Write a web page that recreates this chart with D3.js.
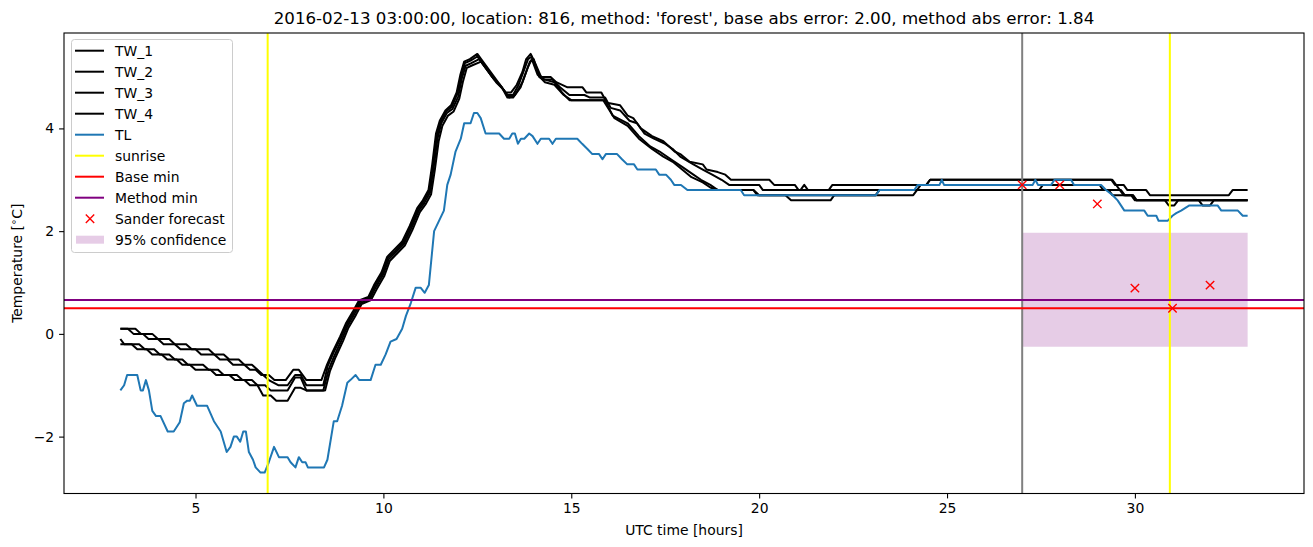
<!DOCTYPE html>
<html><head><meta charset="utf-8">
<script src="https://cdn.jsdelivr.net/npm/d3@7"></script>
<style>body{margin:0;background:#fff}svg text{font-family:"DejaVu Sans",sans-serif;fill:#000}</style>
</head><body><svg id="c" width="1313" height="547"></svg>
<script>
const titleText = "2016-02-13 03:00:00, location: 816, method: 'forest', base abs error: 2.00, method abs error: 1.84";
const xTicks = [5, 10, 15, 20, 25, 30];
const yTicks = [-2, 0, 2, 4];
const tw1 = [[3.0,0.1],[3.2,0.1],[3.35,0.0],[3.6,0.0],[3.75,-0.1],[4.0,-0.1],[4.15,-0.2],[4.45,-0.2],[4.6,-0.3],[5.0,-0.3],[5.15,-0.4],[5.5,-0.4],[5.65,-0.5],[5.85,-0.5],[6.0,-0.6],[6.3,-0.6],[6.45,-0.7],[6.6,-0.7],[6.75,-0.8],[6.95,-0.8],[7.1,-0.9],[7.4,-0.9],[7.6,-0.7],[7.75,-0.7],[7.95,-0.9],[8.35,-0.9],[8.5,-0.6],[8.65,-0.35],[8.85,-0.05],[9.0,0.2],[9.2,0.45],[9.35,0.65],[9.6,0.72],[9.75,0.95],[9.95,1.2],[10.1,1.5],[10.3,1.65],[10.5,1.8],[10.7,2.1],[10.9,2.45],[11.05,2.6],[11.2,2.8],[11.3,3.3],[11.4,3.9],[11.5,4.15],[11.65,4.35],[11.8,4.45],[11.95,4.7],[12.05,5.05],[12.15,5.3],[12.3,5.35],[12.5,5.45],[12.65,5.3],[12.85,5.1],[13.05,4.9],[13.25,4.7],[13.4,4.7],[13.55,4.85],[13.7,5.1],[13.8,5.35],[13.92,5.45],[14.05,5.25],[14.2,5.0],[14.45,5.0],[14.6,4.9],[14.9,4.8],[15.3,4.8],[15.4,4.7],[15.8,4.7],[15.95,4.5],[16.3,4.45],[16.5,4.25],[16.65,4.2],[16.85,4.0],[17.15,3.85],[17.45,3.75],[17.75,3.55],[17.9,3.5],[18.15,3.35],[18.5,3.3],[18.6,3.2],[18.9,3.15],[19.1,3.1],[19.25,3.0],[20.27,3.0],[20.4,2.9],[20.95,2.9],[21.05,2.8],[21.85,2.8],[21.95,2.9],[24.45,2.9],[24.55,3.0],[29.37,3.0],[29.47,2.9],[29.7,2.9],[29.8,2.8],[30.3,2.8],[30.4,2.7],[32.5,2.7],[32.6,2.8],[33.0,2.8]];
const tw2 = [[3.0,0.1],[3.4,0.1],[3.55,0.0],[3.85,0.0],[4.0,-0.1],[4.3,-0.1],[4.45,-0.2],[4.75,-0.2],[4.9,-0.3],[5.35,-0.3],[5.5,-0.4],[5.75,-0.4],[5.9,-0.5],[6.15,-0.5],[6.3,-0.6],[6.5,-0.6],[6.65,-0.7],[6.8,-0.8],[6.95,-0.9],[7.2,-1.0],[7.45,-1.0],[7.65,-0.8],[7.8,-0.8],[7.95,-1.0],[8.4,-1.0],[8.52,-0.62],[8.67,-0.37],[8.87,-0.07],[9.02,0.18],[9.22,0.43],[9.37,0.63],[9.62,0.7],[9.77,0.93],[9.97,1.18],[10.12,1.48],[10.32,1.62],[10.52,1.78],[10.72,2.08],[10.92,2.43],[11.07,2.58],[11.22,2.78],[11.32,3.28],[11.42,3.85],[11.52,4.12],[11.67,4.33],[11.82,4.42],[11.97,4.68],[12.07,5.02],[12.17,5.27],[12.32,5.32],[12.5,5.4],[12.7,5.2],[12.9,5.0],[13.1,4.85],[13.3,4.65],[13.45,4.65],[13.6,4.85],[13.75,5.15],[13.85,5.35],[13.95,5.4],[14.1,5.1],[14.25,4.95],[14.5,4.95],[14.7,4.8],[14.95,4.65],[15.35,4.65],[15.5,4.6],[15.9,4.6],[16.05,4.4],[16.3,4.35],[16.55,4.15],[16.75,4.1],[16.95,3.9],[17.2,3.8],[17.5,3.7],[17.7,3.6],[17.9,3.45],[18.25,3.3],[18.5,3.2],[18.75,3.1],[19.0,3.0],[19.2,2.9],[20.0,2.9],[20.1,2.8],[21.1,2.8],[21.2,2.9],[21.3,2.8],[27.45,2.8],[27.55,2.9],[29.06,2.9],[29.16,2.8],[29.63,2.8],[29.73,2.7],[29.94,2.7],[30.04,2.6],[30.8,2.6],[30.9,2.5],[31.05,2.5],[31.15,2.6],[33.0,2.6]];
const tw3 = [[3.0,-0.1],[3.1,-0.2],[3.5,-0.2],[3.65,-0.3],[3.9,-0.3],[4.05,-0.4],[4.3,-0.4],[4.45,-0.5],[4.65,-0.5],[4.8,-0.6],[5.2,-0.6],[5.35,-0.7],[5.6,-0.7],[5.75,-0.8],[6.1,-0.8],[6.25,-0.9],[6.5,-0.9],[6.65,-1.0],[6.85,-1.0],[7.0,-1.1],[7.45,-1.1],[7.65,-0.85],[7.8,-0.85],[7.95,-1.1],[8.4,-1.1],[8.55,-0.68],[8.7,-0.42],[8.9,-0.1],[9.04,0.15],[9.24,0.4],[9.39,0.6],[9.64,0.68],[9.79,0.9],[9.99,1.15],[10.14,1.45],[10.34,1.6],[10.54,1.75],[10.74,2.05],[10.94,2.4],[11.09,2.55],[11.24,2.75],[11.34,3.25],[11.44,3.8],[11.54,4.1],[11.69,4.3],[11.84,4.38],[11.99,4.62],[12.09,4.98],[12.19,5.22],[12.34,5.27],[12.55,5.35],[12.75,5.15],[12.95,4.95],[13.15,4.8],[13.3,4.6],[13.45,4.6],[13.65,4.8],[13.8,5.1],[13.9,5.3],[14.0,5.35],[14.15,5.0],[14.3,4.95],[14.55,4.9],[14.75,4.7],[14.95,4.55],[15.9,4.55],[16.1,4.25],[16.5,4.1],[16.8,3.85],[17.1,3.65],[17.35,3.55],[17.65,3.4],[17.95,3.25],[18.25,3.1],[18.45,3.0],[18.7,2.9],[18.9,2.8],[19.85,2.8],[19.95,2.7],[20.7,2.7],[20.85,2.6],[21.9,2.6],[22.0,2.7],[24.1,2.7],[24.2,2.8],[29.3,2.8],[29.4,2.7],[29.9,2.7],[30.0,2.6],[31.7,2.6],[31.8,2.5],[32.0,2.5],[32.1,2.6],[33.0,2.6]];
const tw4 = [[3.0,-0.2],[3.3,-0.2],[3.45,-0.3],[3.7,-0.3],[3.85,-0.4],[4.1,-0.4],[4.25,-0.5],[4.5,-0.5],[4.65,-0.6],[4.85,-0.6],[5.0,-0.7],[5.4,-0.7],[5.55,-0.8],[5.9,-0.8],[6.05,-0.9],[6.3,-0.9],[6.45,-1.0],[6.65,-1.0],[6.8,-1.2],[7.0,-1.2],[7.15,-1.3],[7.45,-1.3],[7.65,-1.05],[7.8,-1.05],[7.95,-1.1],[8.45,-1.1],[8.58,-0.72],[8.73,-0.45],[8.93,-0.13],[9.07,0.12],[9.27,0.37],[9.42,0.58],[9.67,0.66],[9.82,0.87],[10.02,1.12],[10.17,1.42],[10.37,1.57],[10.57,1.72],[10.77,2.02],[10.97,2.37],[11.12,2.52],[11.27,2.72],[11.37,3.2],[11.47,3.75],[11.57,4.05],[11.72,4.25],[11.87,4.33],[12.02,4.58],[12.12,4.92],[12.22,5.18],[12.37,5.23],[12.6,5.3],[12.8,5.1],[13.0,4.9],[13.2,4.75],[13.35,4.6],[13.5,4.65],[13.7,4.9],[13.85,5.2],[13.95,5.35],[14.1,5.05],[14.3,4.9],[14.55,4.85],[14.8,4.65],[15.0,4.55],[15.85,4.55],[16.15,4.2],[16.5,4.05],[16.8,3.8],[17.15,3.6],[17.45,3.45],[17.7,3.35],[17.95,3.2],[18.2,3.05],[18.5,2.95],[18.7,2.85],[18.9,2.8],[19.85,2.8],[20.0,2.7],[23.1,2.7],[23.2,2.8],[24.2,2.8],[24.3,2.9],[24.45,2.9],[24.55,3.0],[29.4,3.0],[29.5,2.9],[29.6,2.8],[29.7,2.7],[29.95,2.7],[30.05,2.6],[33.0,2.6]];
const tl = [[3.0,-1.1],[3.1,-1.0],[3.18,-0.8],[3.45,-0.8],[3.54,-1.1],[3.6,-1.1],[3.68,-0.9],[3.76,-1.1],[3.85,-1.5],[3.95,-1.6],[4.07,-1.6],[4.26,-1.9],[4.42,-1.9],[4.58,-1.72],[4.69,-1.35],[4.78,-1.3],[4.85,-1.3],[4.91,-1.2],[5.04,-1.4],[5.31,-1.4],[5.49,-1.7],[5.67,-1.9],[5.83,-2.3],[5.93,-2.2],[6.02,-2.0],[6.1,-2.0],[6.19,-2.1],[6.27,-1.9],[6.34,-1.9],[6.42,-2.3],[6.53,-2.45],[6.6,-2.6],[6.73,-2.7],[6.84,-2.7],[6.95,-2.5],[7.09,-2.2],[7.22,-2.4],[7.45,-2.4],[7.53,-2.5],[7.66,-2.6],[7.75,-2.4],[7.84,-2.5],[7.93,-2.5],[7.99,-2.6],[8.42,-2.6],[8.51,-2.45],[8.68,-1.7],[8.77,-1.7],[8.9,-1.4],[9.04,-0.95],[9.12,-0.9],[9.26,-0.8],[9.36,-0.9],[9.66,-0.9],[9.79,-0.6],[9.93,-0.6],[10.06,-0.4],[10.19,-0.15],[10.35,-0.1],[10.5,0.1],[10.6,0.35],[10.73,0.6],[10.86,0.9],[10.99,0.9],[11.1,0.8],[11.21,0.95],[11.35,2.0],[11.48,2.2],[11.61,2.4],[11.7,2.9],[11.79,3.1],[11.92,3.55],[12.06,3.8],[12.15,4.1],[12.32,4.1],[12.41,4.3],[12.5,4.3],[12.59,4.2],[12.72,3.9],[13.08,3.9],[13.21,3.8],[13.35,3.8],[13.43,3.9],[13.5,3.9],[13.58,3.7],[13.66,3.8],[13.75,3.8],[13.88,3.9],[13.97,3.85],[14.1,3.7],[14.19,3.8],[14.41,3.8],[14.5,3.7],[14.59,3.8],[15.16,3.8],[15.29,3.7],[15.43,3.6],[15.56,3.5],[15.74,3.5],[15.83,3.4],[15.92,3.5],[16.22,3.5],[16.35,3.4],[16.49,3.3],[16.67,3.3],[16.76,3.2],[17.25,3.2],[17.34,3.1],[17.52,3.1],[17.65,3.0],[17.74,2.9],[17.92,2.9],[18.09,2.8],[19.51,2.8],[19.6,2.7],[23.11,2.7],[23.2,2.8],[24.13,2.8],[24.22,2.9],[24.8,2.9],[24.86,3.0],[24.92,2.9],[27.28,2.9],[27.35,3.0],[27.42,2.9],[27.77,2.9],[27.86,3.0],[28.3,3.0],[28.38,2.9],[29.1,2.9],[29.23,2.8],[29.41,2.7],[29.54,2.6],[29.72,2.4],[30.25,2.4],[30.34,2.3],[30.57,2.3],[30.63,2.2],[30.87,2.2],[31.0,2.3],[31.1,2.35],[31.23,2.4],[31.45,2.5],[32.2,2.5],[32.3,2.4],[32.74,2.4],[32.87,2.3],[33.0,2.3]];
const sunriseHours = [6.92, 30.93];
const forecastStart = 27;
const baseMin = 0.5;
const methodMin = 0.66;
const forecastHours = [27, 28, 29, 30, 31, 32];
const forecastValues = [2.9, 2.9, 2.53, 0.89, 0.5, 0.95];
const confHours = [27, 33];
const confLow = [-0.25, -0.25];
const confHigh = [1.97, 1.97];

const L = 64, R = 1304, T = 33, B = 493.5;
const FS = 13.9, LW = 2;
const svg = d3.select("#c");
const allLines = [tw1, tw2, tw3, tw4, tl];
const xs = allLines.flat().map(d => d[0]).concat(forecastHours, confHours);
const ys = allLines.flat().map(d => d[1]).concat(forecastValues, confLow, confHigh);
const [x0, x1] = d3.extent(xs), [y0, y1] = d3.extent(ys);
const px = (x1 - x0) * 0.05, py = (y1 - y0) * 0.05;
const x = d3.scaleLinear().domain([x0 - px, x1 + px]).range([L, R]);
const y = d3.scaleLinear().domain([y0 - py, y1 + py]).range([B, T]);

svg.append("defs").append("clipPath").attr("id", "clip")
  .append("rect").attr("x", L).attr("y", T).attr("width", R - L).attr("height", B - T);
const g = svg.append("g").attr("clip-path", "url(#clip)");

const area = d3.area().x(d => x(d[0])).y0(d => y(d[1])).y1(d => y(d[2]));
g.append("path").datum(confHours.map((h, i) => [h, confLow[i], confHigh[i]]))
  .attr("d", area).attr("fill", "purple").attr("fill-opacity", 0.2);

const line = d3.line().x(d => x(d[0])).y(d => y(d[1]));
[tw1, tw2, tw3, tw4].forEach(s => g.append("path").datum(s).attr("d", line)
  .attr("fill", "none").attr("stroke", "black").attr("stroke-width", LW).attr("stroke-linejoin", "round"));
g.append("path").datum(tl).attr("d", line).attr("fill", "none").attr("stroke", "#1f77b4")
  .attr("stroke-width", LW).attr("stroke-linejoin", "round");

g.append("line").attr("x1", x(forecastStart)).attr("x2", x(forecastStart)).attr("y1", T).attr("y2", B)
  .attr("stroke", "gray").attr("stroke-width", LW);
sunriseHours.forEach(h => g.append("line").attr("x1", x(h)).attr("x2", x(h)).attr("y1", T).attr("y2", B)
  .attr("stroke", "yellow").attr("stroke-width", LW));
g.append("line").attr("x1", L).attr("x2", R).attr("y1", y(baseMin)).attr("y2", y(baseMin))
  .attr("stroke", "red").attr("stroke-width", LW);
g.append("line").attr("x1", L).attr("x2", R).attr("y1", y(methodMin)).attr("y2", y(methodMin))
  .attr("stroke", "purple").attr("stroke-width", LW);

const cross = (sel, cx, cy, r) => sel.append("path")
  .attr("d", `M${cx - r},${cy - r}L${cx + r},${cy + r}M${cx - r},${cy + r}L${cx + r},${cy - r}`)
  .attr("stroke", "red").attr("stroke-width", 1.4).attr("fill", "none");
forecastHours.forEach((h, i) => cross(g, x(h), y(forecastValues[i]), 4.2));

const xAxis = d3.axisBottom(x).tickValues(xTicks).tickSize(4.9).tickPadding(4.9).tickFormat(d3.format("d"));
const yAxis = d3.axisLeft(y).tickValues(yTicks).tickSize(4.9).tickPadding(4.9).tickFormat(d => d < 0 ? "\u2212" + Math.abs(d) : d);
const gx = svg.append("g").attr("transform", `translate(0,${B})`).call(xAxis);
const gy = svg.append("g").attr("transform", `translate(${L},0)`).call(yAxis);
[gx, gy].forEach(a => { a.select(".domain").remove();
  a.selectAll("text").attr("font-size", FS).attr("font-family", "DejaVu Sans");
  a.selectAll("line").attr("stroke", "black").attr("stroke-width", 1.1); });
svg.append("rect").attr("x", L).attr("y", T).attr("width", R - L).attr("height", B - T)
  .attr("fill", "none").attr("stroke", "black").attr("stroke-width", 1.1);

svg.append("text").attr("x", (L + R) / 2).attr("y", 24).attr("text-anchor", "middle")
  .attr("font-size", 16.67).text(titleText);
svg.append("text").attr("x", (L + R) / 2).attr("y", 535).attr("text-anchor", "middle")
  .attr("font-size", FS).text("UTC time [hours]");
const yl = svg.append("text").attr("transform", `translate(22,${(T + B) / 2}) rotate(-90)`)
  .attr("text-anchor", "middle").attr("font-size", FS);
yl.append("tspan").text("Temperature [");
yl.append("tspan").attr("font-size", 10).attr("dy", -5).text("\u2218");
yl.append("tspan").attr("dy", 5).text("C]");

const legendItems = [
  {label: "TW_1", type: "line", color: "black"},
  {label: "TW_2", type: "line", color: "black"},
  {label: "TW_3", type: "line", color: "black"},
  {label: "TW_4", type: "line", color: "black"},
  {label: "TL", type: "line", color: "#1f77b4"},
  {label: "sunrise", type: "line", color: "yellow"},
  {label: "Base min", type: "line", color: "red"},
  {label: "Method min", type: "line", color: "purple"},
  {label: "Sander forecast", type: "marker", color: "red"},
  {label: "95% confidence", type: "patch", color: "purple"}];
const lg = svg.append("g");
lg.append("rect").attr("x", 71.5).attr("y", 39.5).attr("width", 161).attr("height", 213).attr("rx", 3)
  .attr("fill", "white").attr("fill-opacity", 0.8).attr("stroke", "#cccccc").attr("stroke-width", 1);
legendItems.forEach((d, i) => {
  const cy = 50.7 + i * 21;
  if (d.type === "line") lg.append("line").attr("x1", 75).attr("x2", 104).attr("y1", cy).attr("y2", cy)
    .attr("stroke", d.color).attr("stroke-width", LW);
  else if (d.type === "marker") cross(lg, 90, cy, 4.2);
  else lg.append("rect").attr("x", 76).attr("y", cy - 4).attr("width", 28).attr("height", 8)
    .attr("fill", d.color).attr("fill-opacity", 0.2);
  lg.append("text").attr("x", 115).attr("y", cy + 5).attr("font-size", FS).text(d.label);
});
</script></body></html>
